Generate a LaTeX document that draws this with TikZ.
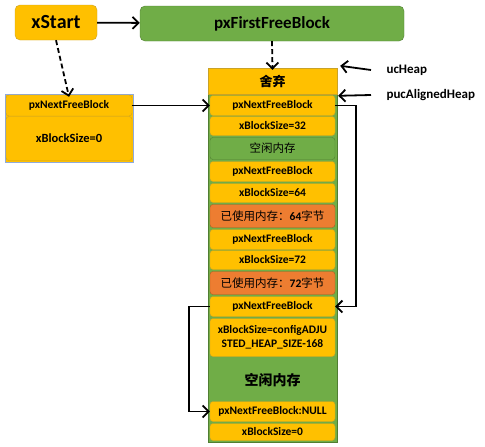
\documentclass[tikz,border=0pt]{standalone}
\usepackage{fontspec}
\setmainfont{Carlito}
\newfontfamily\cjk{Noto Sans CJK SC}
\usetikzlibrary{arrows.meta,positioning}
\definecolor{gold}{HTML}{FFC000}
\definecolor{goldline}{HTML}{C9A227}
\definecolor{leaf}{HTML}{70AD47}
\definecolor{leafline}{HTML}{507E32}
\definecolor{rust}{HTML}{ED7D31}
\definecolor{rustline}{HTML}{AE5A21}
\definecolor{frame}{HTML}{8FAADC}

\tikzset{
  cell/.style={draw=goldline, fill=gold, rounded corners=3pt, minimum width=125pt, inner sep=0pt, font=\bfseries\fontsize{11.5}{13.5}\selectfont, align=center},
  freecell/.style={cell, draw=leafline, fill=leaf},
  usedcell/.style={cell, draw=rustline, fill=rust},
  link/.style={line width=1.8pt, -{Straight Barb[length=6pt,width=12pt]}},
  gap/.style={dash pattern=on 5pt off 3pt},
  tag/.style={font=\bfseries\fontsize{13}{15}\selectfont, anchor=west}
}

\begin{document}
\begin{tikzpicture}[x=1pt, y=-1pt]
  \useasboundingbox (0,0) rectangle (485,447);

  % head pointers
  \node[cell, rounded corners=5pt, minimum width=82pt, minimum height=35pt, font=\bfseries\fontsize{20}{22}\selectfont] (xstart) at (56,22.5) {xStart};
  \node[freecell, rounded corners=5pt, minimum width=264pt, minimum height=35pt, font=\bfseries\fontsize{17}{20}\selectfont] (first) at (272,23.5) {pxFirstFreeBlock};

  % xStart block
  \draw[frame, fill=gold] (5,94) rectangle (133,162);
  \node[cell, minimum width=126pt, minimum height=21pt] (nfb0) at (69,105.5) {pxNextFreeBlock};
  \node[cell, minimum width=126pt, minimum height=44pt, font=\bfseries\fontsize{12.5}{14}\selectfont] (size0) at (69,138.5) {xBlockSize=0};

  % heap
  \draw[leafline, fill=leaf] (208,68) rectangle (337,442);
  \node[cell, rounded corners=0pt, minimum width=129pt, minimum height=26pt, font=\bfseries\fontsize{13}{15}\selectfont] (discard) at (272.5,81) {\cjk 舍弃};
  \node[cell, minimum height=20pt] (nfb1) at (272.5,105.5) {pxNextFreeBlock};
  \node[cell, minimum height=19pt] (size1) at (272.5,126) {xBlockSize=32};
  \node[freecell, minimum height=22pt] (free1) at (272.5,148.5) {\cjk\mdseries 空闲内存};
  \node[cell, minimum height=20pt] (nfb2) at (272.5,171.5) {pxNextFreeBlock};
  \node[cell, minimum height=19pt] (size2) at (272.5,193) {xBlockSize=64};
  \node[usedcell, minimum height=23pt] (used1) at (272.5,216) {{\cjk\mdseries 已使用内存：}64{\cjk\mdseries 字节}};
  \node[cell, minimum height=20pt] (nfb3) at (272.5,239.5) {pxNextFreeBlock};
  \node[cell, minimum height=19pt] (size3) at (272.5,260) {xBlockSize=72};
  \node[usedcell, minimum height=23pt] (used2) at (272.5,283) {{\cjk\mdseries 已使用内存：}72{\cjk\mdseries 字节}};
  \node[cell, minimum height=20pt] (nfb4) at (272.5,306.5) {pxNextFreeBlock};
  \node[cell, minimum height=38pt, text width=125pt] (size4) at (272.5,337.5) {xBlockSize=configADJU\\STED\_HEAP\_SIZE-168};
  \node[font=\bfseries\fontsize{14}{16}\selectfont] (free2) at (272.5,380) {\cjk 空闲内存};
  \node[cell, minimum height=20pt] (nfb5) at (272.5,411.5) {pxNextFreeBlock:NULL};
  \node[cell, minimum height=17pt] (size5) at (272.5,432) {xBlockSize=0};

  \node[tag] (ucheap) at (383,70) {ucHeap};
  \node[tag] (aligned) at (383,95) {pucAlignedHeap};

  % pointers
  \draw[link] (xstart) -- (first);
  \draw[link, gap] (xstart.south) -- ([yshift=-2pt]nfb0.north);
  \draw[link, gap] (first.south) -- ([yshift=-2pt]discard.north);
  \draw[link] (nfb0) -- (nfb1);
  \draw[link] ([xshift=-12pt]ucheap.west) -- ([xshift=3pt,yshift=2pt]discard.north east);
  \draw[link] ([xshift=-12pt]aligned.west) -- ([xshift=3pt,yshift=-0.5pt]nfb1.north east);
  \draw[link] (nfb1.east) -- ++(21,0) |- (nfb4.east);
  \draw[link] (nfb4.west) -- ++(-21,0) |- (nfb5.west);
\end{tikzpicture}
\end{document}
